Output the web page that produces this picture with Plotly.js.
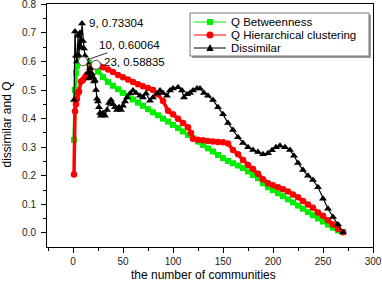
<!DOCTYPE html>
<html><head><meta charset="utf-8">
<script src="https://cdn.plot.ly/plotly-3.0.1.min.js"></script>
<style>html,body{margin:0;padding:0;background:#fff}#chart{width:382px;height:281px}</style>
</head><body><div id="chart"></div>
<script>
const seriesNames = ['Q Betweenness', 'Q Hierarchical clustering', 'Dissimilar'];
const xTitle = 'the number of communities';
const yTitle = 'dissimilar and Q';

const betweennessX = [1,2,3,4,5,7,10,13,16,20,25,30,35,40,45,50,55,60,65,70,75,80,85,90,95,100,105,110,115,120,125,130,135,140,145,150,155,160,165,170,175,180,185,190,195,200,205,210,215,220,225,230,235,240,245,250,255,260,265,270];
const betweennessQ = [0.326,0.50,0.56,0.585,0.595,0.600,0.60064,0.598,0.595,0.585,0.565,0.545,0.528,0.515,0.503,0.49,0.478,0.467,0.456,0.445,0.433,0.422,0.412,0.40,0.39,0.378,0.367,0.355,0.343,0.332,0.32,0.308,0.296,0.285,0.273,0.262,0.252,0.244,0.236,0.227,0.215,0.203,0.192,0.174,0.160,0.150,0.139,0.129,0.118,0.107,0.096,0.085,0.073,0.062,0.051,0.040,0.029,0.018,0.009,0.003];

const hierX = [1,2,3,4,5,6,8,10,12,14,17,20,23,26,30,35,40,45,50,55,60,65,70,75,80,85,90,95,100,105,110,115,118,120,125,130,135,140,145,150,155,160,165,170,175,180,185,190,195,200,205,210,215,220,225,230,235,240,245,250,255,260,265,270];
const hierQ = [0.205,0.426,0.45,0.47,0.49,0.495,0.53,0.535,0.545,0.554,0.575,0.585,0.58835,0.585,0.58,0.572,0.563,0.553,0.545,0.537,0.528,0.52,0.513,0.507,0.50,0.485,0.462,0.428,0.415,0.40,0.385,0.37,0.35,0.33,0.326,0.324,0.322,0.32,0.318,0.317,0.313,0.29,0.275,0.255,0.238,0.224,0.207,0.188,0.174,0.167,0.16,0.153,0.145,0.135,0.125,0.112,0.1,0.088,0.072,0.06,0.045,0.03,0.015,0.003];

const dissimX = [1,2,3,4,5,6,7,8,9,10,11,12,13,14,15,16,17,18,19,20,21,22,23,24,25,26,27,28,29,30,32,34,36,38,40,42,44,46,48,50,52,54,57,60,63,67,70,73,77,80,84,87,90,94,97,100,105,109,111,114,117,120,124,127,131,135,140,145,150,155,160,165,170,175,180,185,190,195,199,203,207,212,217,221,225,230,235,240,245,250,255,260,265,270];
const dissimY = [0.465,0.705,0.62,0.60,0.69,0.62,0.70,0.65,0.73304,0.672,0.645,0.62,0.60,0.596,0.56,0.54,0.575,0.55,0.557,0.545,0.53,0.533,0.50,0.47,0.46,0.44,0.42,0.41,0.415,0.42,0.41,0.43,0.455,0.465,0.45,0.44,0.43,0.44,0.43,0.445,0.46,0.474,0.488,0.498,0.49,0.48,0.474,0.488,0.463,0.474,0.488,0.498,0.49,0.48,0.498,0.505,0.51,0.498,0.474,0.485,0.49,0.498,0.505,0.505,0.49,0.48,0.465,0.44,0.415,0.385,0.36,0.335,0.315,0.30,0.29,0.283,0.275,0.279,0.289,0.30,0.305,0.30,0.29,0.27,0.245,0.22,0.20,0.185,0.16,0.12,0.085,0.056,0.03,0.003];

const peakX = [10, 23];
const peakY = [0.60064, 0.58835];
const peakLabels = ['9, 0.73304', '10, 0.60064', '23, 0.58835'];
const labelX = [9, 10, 23];
const labelY = [0.73304, 0.60064, 0.58835];

const xTickVals = [0, 50, 100, 150, 200, 250, 300];
const xTickText = ['0', '50', '100', '150', '200', '250', '300'];
const yTickVals = [0, 0.1, 0.2, 0.3, 0.4, 0.5, 0.6, 0.7, 0.8];
const yTickText = ['0.0', '0.1', '0.2', '0.3', '0.4', '0.5', '0.6', '0.7', '0.8'];

const FONT = 'Liberation Sans, Arial, Helvetica, sans-serif';
const W = 382, H = 281, ML = 47, MR = 9, MT = 4, MB = 34;
const PW = W - ML - MR, PH = H - MT - MB;
const px = x => (x - ML) / PW;
const py = y => (H - MB - y) / PH;

const GREEN = '#00ee00', RED = '#ff0000', BLACK = '#000000';

const traces = [
  {x: betweennessX, y: betweennessQ, name: seriesNames[0], mode: 'lines+markers',
   line: {color: GREEN, width: 3.5}, marker: {symbol: 'square', size: 6, color: GREEN}},
  {x: hierX, y: hierQ, name: seriesNames[1], mode: 'lines+markers',
   line: {color: RED, width: 3.5}, marker: {symbol: 'circle', size: 6.5, color: RED}},
  {x: dissimX, y: dissimY, name: seriesNames[2], mode: 'lines+markers',
   line: {color: BLACK, width: 1.2}, marker: {symbol: 'triangle-up', size: 7, color: BLACK}},
  {x: peakX, y: peakY, mode: 'markers', showlegend: false, hoverinfo: 'skip',
   marker: {symbol: 'circle', size: 9, color: '#ffffff', line: {color: '#555', width: 1}}}
];

// compact legend box drawn like the original
const rows = [22, 35, 48];
const colors = [GREEN, RED, BLACK];
const shapes = [
  {type: 'rect', xref: 'paper', yref: 'paper', x0: px(192), x1: px(371), y0: py(15), y1: py(58),
   fillcolor: '#9a9a9a', line: {width: 0}},
  {type: 'rect', xref: 'paper', yref: 'paper', x0: px(190), x1: px(369), y0: py(13), y1: py(56),
   fillcolor: '#ffffff', line: {color: '#777', width: 1}}
];
rows.forEach((r, i) => {
  shapes.push({type: 'line', xref: 'paper', yref: 'paper', x0: px(194), x1: px(226), y0: py(r), y1: py(r),
    line: {color: colors[i], width: 1}});
});
shapes.push({type: 'rect', xref: 'paper', yref: 'paper', x0: px(207), x1: px(213), y0: py(rows[0] + 3), y1: py(rows[0] - 3),
  fillcolor: colors[0], line: {width: 0}});
shapes.push({type: 'circle', xref: 'paper', yref: 'paper', x0: px(206.5), x1: px(213.5), y0: py(rows[1] + 3.5), y1: py(rows[1] - 3.5),
  fillcolor: colors[1], line: {width: 0}});
shapes.push({type: 'path', xref: 'paper', yref: 'paper',
  path: `M ${px(206.3)},${py(rows[2] + 3)} L ${px(213.7)},${py(rows[2] + 3)} L ${px(210)},${py(rows[2] - 4)} Z`,
  fillcolor: colors[2], line: {width: 0}});

const annotations = seriesNames.map((n, i) => ({
  xref: 'paper', yref: 'paper', x: px(229), y: py(rows[i]), xanchor: 'left', yanchor: 'middle',
  text: n, showarrow: false, font: {family: FONT, size: 11.5, color: '#000'}
}));
annotations.push({x: labelX[0], y: labelY[0], text: peakLabels[0], showarrow: false,
  xanchor: 'left', yanchor: 'middle', xshift: 5, font: {family: FONT, size: 11.5, color: '#000'}});
annotations.push({x: labelX[1], y: labelY[1], text: peakLabels[1], showarrow: true,
  ax: 46, ay: -16, arrowhead: 2, arrowsize: 0.7, arrowwidth: 0.8, arrowcolor: '#000', standoff: 4,
  font: {family: FONT, size: 11.5, color: '#000'}});
annotations.push({x: labelX[2], y: labelY[2], text: peakLabels[2], showarrow: false,
  xanchor: 'left', yanchor: 'middle', xshift: 6, yshift: 3, font: {family: FONT, size: 11.5, color: '#000'}});
// axis titles placed as in the original
annotations.push({xref: 'paper', yref: 'paper', x: px(203), y: py(274.5), xanchor: 'center', yanchor: 'middle',
  text: xTitle, showarrow: false, font: {family: FONT, size: 12, color: '#000'}});
annotations.push({xref: 'paper', yref: 'paper', x: px(6.5), y: py(125), xanchor: 'center', yanchor: 'middle',
  textangle: -90, text: yTitle, showarrow: false, font: {family: FONT, size: 12, color: '#000'}});

const axisCommon = {
  showline: true, linecolor: '#000', linewidth: 1, mirror: true, showgrid: false, zeroline: false,
  ticks: 'outside', ticklen: 5, tickwidth: 1, tickcolor: '#000', ticklabeloverflow: 'allow',
  tickfont: {family: FONT, size: 10, color: '#222'}
};

const layout = {
  width: W, height: H, margin: {l: ML, r: MR, t: MT, b: MB},
  paper_bgcolor: '#fff', plot_bgcolor: '#fff', showlegend: false,
  font: {family: FONT},
  xaxis: Object.assign({}, axisCommon, {
    range: [-26, 300], tickmode: 'array', tickvals: xTickVals, ticktext: xTickText,
    minor: {dtick: 25, tick0: 0, ticks: 'outside', ticklen: 3, tickcolor: '#000'}
  }),
  yaxis: Object.assign({}, axisCommon, {
    range: [-0.049, 0.801], tickmode: 'array', tickvals: yTickVals, ticktext: yTickText,
    minor: {dtick: 0.05, tick0: 0, ticks: 'outside', ticklen: 3, tickcolor: '#000'},
    ticklabelstandoff: 3
  }),
  shapes: shapes, annotations: annotations
};

Plotly.newPlot('chart', traces, layout, {displayModeBar: false, staticPlot: true});
</script>
</body></html>
